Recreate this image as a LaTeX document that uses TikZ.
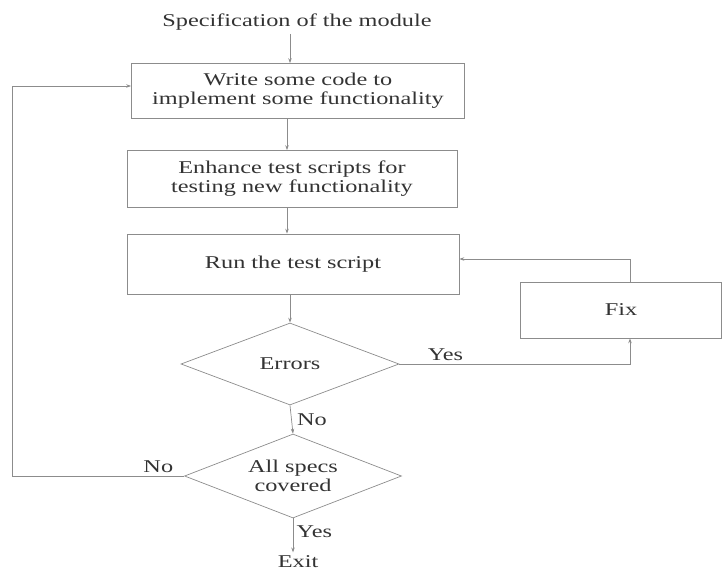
\documentclass[tikz,border=0pt]{standalone}
\usepackage{fontspec}
\setmainfont{Liberation Serif}[FakeStretch=1.35]
\usetikzlibrary{arrows.meta,shapes.geometric}
\tikzset{
  line/.style={draw=black!45, line width=0.7pt},
  arr/.style={line, -{Stealth[length=5pt,width=3.5pt]}},
  txt/.style={text=black!80, font=\fontsize{18}{19}\selectfont, align=center},
  block/.style={txt, line, rectangle, inner sep=0pt},
  decision/.style={txt, line, diamond, aspect=2.6, inner sep=0pt}
}
\begin{document}
\begin{tikzpicture}[x=1pt,y=-1pt]
	\useasboundingbox (0,0) rectangle (724,571);
	\node[txt] (spec) at (297,22) {Specification of the module};
	\node[block, minimum width=333pt, minimum height=55pt] (write) at (298,91) {Write some code to\\implement some functionality};
	\node[block, minimum width=330pt, minimum height=57pt] (enhance) at (292,179) {Enhance test scripts for\\testing new functionality};
	\node[block, minimum width=332pt, minimum height=60pt] (run) at (293,264) {Run the test script};
	\node[block, minimum width=201pt, minimum height=56pt] (fix) at (621,310) {Fix};
	\node[decision, minimum width=218pt, minimum height=82pt] (errors) at (290,364) {Errors};
	\node[decision, minimum width=217pt, minimum height=84pt] (specs) at (293,476) {All specs\\covered};
	\node[txt] (exit) at (298,562) {Exit};
	\coordinate (back) at (12,476);
	% arrows
	\draw[arr] (spec.south -| 290,0) -- (290,0 |- write.north);
	\draw[arr] (287,0 |- write.south) -- (287,0 |- enhance.north);
	\draw[arr] (287,0 |- enhance.south) -- (287,0 |- run.north);
	\draw[arr] (errors.north |- run.south) -- (errors.north);
	\draw[arr] (errors.east) -| node[txt, pos=0.1, above] {Yes} ([xshift=9pt]fix.south);
	\draw[arr] ([xshift=9pt]fix.north) |- ([yshift=5pt]run.east);
	\draw[arr] (errors.south) -- node[txt, right, xshift=2pt] {No} (specs.north);
	\draw[arr] (specs.south) -- node[txt, right, pos=0.4] {Yes} (specs.south |- exit.north);
	\draw[arr] (specs.west) -- node[txt, pos=0.15, above] {No} (back) |- ([yshift=5pt]write.west);
\end{tikzpicture}
\end{document}
